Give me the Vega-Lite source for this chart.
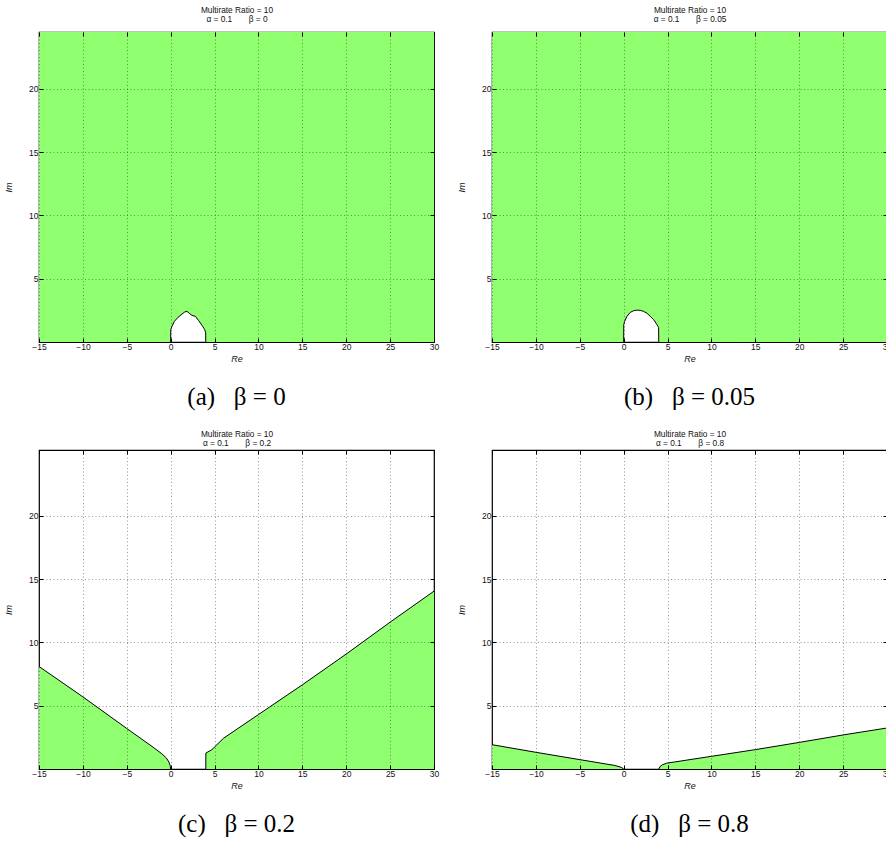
{
  "$schema": "https://vega.github.io/schema/vega-lite/v6.json",
  "background": "white",
  "padding": {"left": 3, "top": 4, "right": 0, "bottom": 0},
  "datasets": {
    "a": [
      {"x": -15, "y": 0}, {"x": 0, "y": 0}, {"x": 0.01, "y": 0.98}, {"x": 0.15, "y": 1.24},
      {"x": 0.42, "y": 1.63}, {"x": 0.84, "y": 1.95}, {"x": 1.29, "y": 2.21}, {"x": 1.6, "y": 2.37},
      {"x": 1.86, "y": 2.42}, {"x": 2.12, "y": 2.27}, {"x": 2.43, "y": 2.1}, {"x": 2.81, "y": 2.03},
      {"x": 3.19, "y": 1.69}, {"x": 3.57, "y": 1.32}, {"x": 3.88, "y": 0.98}, {"x": 3.99, "y": 0.72},
      {"x": 4, "y": 0}, {"x": 30, "y": 0}
    ],
    "b": [
      {"x": -15, "y": 0}, {"x": 0, "y": 0}, {"x": 0.01, "y": 1.37}, {"x": 0.11, "y": 1.63},
      {"x": 0.38, "y": 2.03}, {"x": 0.75, "y": 2.34}, {"x": 1.13, "y": 2.47}, {"x": 1.51, "y": 2.52},
      {"x": 1.89, "y": 2.5}, {"x": 2.28, "y": 2.42}, {"x": 2.66, "y": 2.27}, {"x": 3.03, "y": 2.03},
      {"x": 3.41, "y": 1.77}, {"x": 3.72, "y": 1.45}, {"x": 3.98, "y": 1.16}, {"x": 4, "y": 0},
      {"x": 30, "y": 0}
    ],
    "c": [
      {"part": "L", "x": -15, "y": 8.1}, {"part": "L", "x": -10, "y": 5.7}, {"part": "L", "x": -5, "y": 3.2},
      {"part": "L", "x": -2, "y": 1.72}, {"part": "L", "x": -1, "y": 1.2}, {"part": "L", "x": -0.5, "y": 0.88},
      {"part": "L", "x": -0.2, "y": 0.55}, {"part": "L", "x": -0.05, "y": 0.25}, {"part": "L", "x": 0, "y": 0},
      {"part": "R", "x": 4, "y": 0}, {"part": "R", "x": 4.01, "y": 1.26}, {"part": "R", "x": 4.7, "y": 1.53},
      {"part": "R", "x": 6, "y": 2.42}, {"part": "R", "x": 10, "y": 4.3}, {"part": "R", "x": 15, "y": 6.65},
      {"part": "R", "x": 20, "y": 9.08}, {"part": "R", "x": 25, "y": 11.6}, {"part": "R", "x": 30, "y": 14.05}
    ],
    "d": [
      {"part": "L", "x": -15, "y": 1.92}, {"part": "L", "x": -10, "y": 1.32}, {"part": "L", "x": -5, "y": 0.74},
      {"part": "L", "x": -1, "y": 0.28}, {"part": "L", "x": -0.3, "y": 0.14}, {"part": "L", "x": 0, "y": 0},
      {"part": "R", "x": 4, "y": 0}, {"part": "R", "x": 4.15, "y": 0.2}, {"part": "R", "x": 4.4, "y": 0.33},
      {"part": "R", "x": 4.9, "y": 0.46}, {"part": "R", "x": 10, "y": 1.0}, {"part": "R", "x": 15, "y": 1.53},
      {"part": "R", "x": 20, "y": 2.1}, {"part": "R", "x": 25, "y": 2.69}, {"part": "R", "x": 30, "y": 3.24}
    ]
  },
  "vconcat": [
    {
      "hconcat": [
        {
          "width": 395, "height": 310,
          "title": {"text": "(a)\u00a0\u00a0\u00a0β\u00a0=\u00a00"},
          "layer": [
            {
              "data": {"name": "a"},
              "mark": {"type": "area", "color": "#90FF70", "opacity": 1},
              "encoding": {
                "x": {"field": "x", "type": "quantitative", "scale": {"domain": [-15, 30], "nice": false, "zero": false},
                      "axis": {"orient": "bottom", "title": "Re", "zindex": 1, "values": [-15, -10, -5, 0, 5, 10, 15, 20, 25, 30]}},
                "y": {"field": "y", "type": "quantitative", "stack": null, "scale": {"domain": [0, 24.5], "nice": false},
                      "axis": {"orient": "left", "title": "Im", "zindex": 1, "values": [5, 10, 15, 20]}},
                "y2": {"datum": 24.5}
              }
            },
            {
              "data": {"name": "a"},
              "transform": [{"filter": "datum.x >= 0 && datum.x <= 4"}],
              "mark": {"type": "line", "color": "black", "strokeWidth": 1},
              "encoding": {
                "x": {"field": "x", "type": "quantitative",
                      "axis": {"orient": "top", "labels": false, "grid": false, "zindex": 1, "title": ["Multirate Ratio = 10", "α = 0.1\u2003\u2003β = 0"], "values": [-15, -10, -5, 0, 5, 10, 15, 20, 25, 30]}},
                "y": {"field": "y", "type": "quantitative",
                      "axis": {"orient": "right", "labels": false, "grid": false, "zindex": 1, "title": null, "values": [5, 10, 15, 20]}}
              }
            }
          ],
          "resolve": {"axis": {"x": "independent", "y": "independent"}}
        },
        {
          "width": 395, "height": 310,
          "title": {"text": "(b)\u00a0\u00a0\u00a0β\u00a0=\u00a00.05"},
          "layer": [
            {
              "data": {"name": "b"},
              "mark": {"type": "area", "color": "#90FF70", "opacity": 1},
              "encoding": {
                "x": {"field": "x", "type": "quantitative", "scale": {"domain": [-15, 30], "nice": false, "zero": false},
                      "axis": {"orient": "bottom", "title": "Re", "zindex": 1, "values": [-15, -10, -5, 0, 5, 10, 15, 20, 25, 30]}},
                "y": {"field": "y", "type": "quantitative", "stack": null, "scale": {"domain": [0, 24.5], "nice": false},
                      "axis": {"orient": "left", "title": "Im", "zindex": 1, "values": [5, 10, 15, 20]}},
                "y2": {"datum": 24.5}
              }
            },
            {
              "data": {"name": "b"},
              "transform": [{"filter": "datum.x >= 0 && datum.x <= 4"}],
              "mark": {"type": "line", "color": "black", "strokeWidth": 1},
              "encoding": {
                "x": {"field": "x", "type": "quantitative",
                      "axis": {"orient": "top", "labels": false, "grid": false, "zindex": 1, "title": ["Multirate Ratio = 10", "α = 0.1\u2003\u2003β = 0.05"], "values": [-15, -10, -5, 0, 5, 10, 15, 20, 25, 30]}},
                "y": {"field": "y", "type": "quantitative",
                      "axis": {"orient": "right", "labels": false, "grid": false, "zindex": 1, "title": null, "values": [5, 10, 15, 20]}}
              }
            }
          ],
          "resolve": {"axis": {"x": "independent", "y": "independent"}}
        }
      ],
      "spacing": 16
    },
    {
      "hconcat": [
        {
          "width": 395, "height": 319,
          "title": {"text": "(c)\u00a0\u00a0\u00a0β\u00a0=\u00a00.2"},
          "layer": [
            {
              "data": {"name": "c"},
              "mark": {"type": "area", "color": "#90FF70", "opacity": 1},
              "encoding": {
                "x": {"field": "x", "type": "quantitative", "scale": {"domain": [-15, 30], "nice": false, "zero": false},
                      "axis": {"orient": "bottom", "title": "Re", "zindex": 1, "values": [-15, -10, -5, 0, 5, 10, 15, 20, 25, 30]}},
                "y": {"field": "y", "type": "quantitative", "stack": null, "scale": {"domain": [0, 25.2], "nice": false},
                      "axis": {"orient": "left", "title": "Im", "zindex": 1, "values": [5, 10, 15, 20]}},
                "y2": {"datum": 0},
                "detail": {"field": "part"}
              }
            },
            {
              "data": {"name": "c"},
              "mark": {"type": "line", "color": "black", "strokeWidth": 1},
              "encoding": {
                "x": {"field": "x", "type": "quantitative",
                      "axis": {"orient": "top", "labels": false, "grid": false, "zindex": 1, "titlePadding": 3, "title": ["Multirate Ratio = 10", "α = 0.1\u2003\u2003β = 0.2"], "values": [-15, -10, -5, 0, 5, 10, 15, 20, 25, 30]}},
                "y": {"field": "y", "type": "quantitative",
                      "axis": {"orient": "right", "labels": false, "grid": false, "zindex": 1, "title": null, "values": [5, 10, 15, 20]}},
                "detail": {"field": "part"}
              }
            }
          ],
          "resolve": {"axis": {"x": "independent", "y": "independent"}}
        },
        {
          "width": 395, "height": 319,
          "title": {"text": "(d)\u00a0\u00a0\u00a0β\u00a0=\u00a00.8"},
          "layer": [
            {
              "data": {"name": "d"},
              "mark": {"type": "area", "color": "#90FF70", "opacity": 1},
              "encoding": {
                "x": {"field": "x", "type": "quantitative", "scale": {"domain": [-15, 30], "nice": false, "zero": false},
                      "axis": {"orient": "bottom", "title": "Re", "zindex": 1, "values": [-15, -10, -5, 0, 5, 10, 15, 20, 25, 30]}},
                "y": {"field": "y", "type": "quantitative", "stack": null, "scale": {"domain": [0, 25.2], "nice": false},
                      "axis": {"orient": "left", "title": "Im", "zindex": 1, "values": [5, 10, 15, 20]}},
                "y2": {"datum": 0},
                "detail": {"field": "part"}
              }
            },
            {
              "data": {"name": "d"},
              "mark": {"type": "line", "color": "black", "strokeWidth": 1},
              "encoding": {
                "x": {"field": "x", "type": "quantitative",
                      "axis": {"orient": "top", "labels": false, "grid": false, "zindex": 1, "titlePadding": 3, "title": ["Multirate Ratio = 10", "α = 0.1\u2003\u2003β = 0.8"], "values": [-15, -10, -5, 0, 5, 10, 15, 20, 25, 30]}},
                "y": {"field": "y", "type": "quantitative",
                      "axis": {"orient": "right", "labels": false, "grid": false, "zindex": 1, "title": null, "values": [5, 10, 15, 20]}},
                "detail": {"field": "part"}
              }
            }
          ],
          "resolve": {"axis": {"x": "independent", "y": "independent"}}
        }
      ],
      "spacing": 16
    }
  ],
  "spacing": 17,
  "config": {
    "view": {"stroke": "black", "strokeWidth": 1.2},
    "axis": {
      "domain": false,
      "labelFlush": false,
      "labelFont": "Liberation Sans", "labelFontSize": 8.5, "labelColor": "#111",
      "titleFont": "Liberation Sans", "titleFontSize": 9, "titleFontWeight": "normal", "titleColor": "#111",
      "tickColor": "#000", "tickSize": -4, "tickWidth": 1,
      "gridColor": "#000", "gridOpacity": 0.5, "gridDash": [1, 2.5], "gridWidth": 0.8
    },
    "axisBottom": {"labelPadding": 4, "titlePadding": 4, "titleFontStyle": "italic"},
    "axisLeft": {"labelPadding": 5, "minExtent": 14, "maxExtent": 14, "titlePadding": 12, "titleFontStyle": "italic"},
    "axisTop": {"titlePadding": 9, "titleLineHeight": 8.5, "minExtent": 0, "maxExtent": 0, "titleFontSize": 8.3, "titleFontStyle": "normal"},
    "axisRight": {"minExtent": 0, "maxExtent": 0},
    "title": {
      "orient": "bottom", "anchor": "middle", "frame": "group",
      "font": "Liberation Serif", "fontSize": 25, "fontWeight": "normal", "color": "#000", "offset": 21
    }
  }
}
